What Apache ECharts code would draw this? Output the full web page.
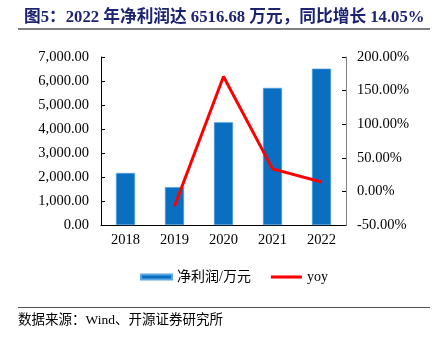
<!DOCTYPE html>
<html><head><meta charset="utf-8">
<script src="https://cdn.jsdelivr.net/npm/echarts@6/dist/echarts.min.js"></script>
<style>html,body{margin:0;padding:0;background:#fff}#c{width:432px;height:338px}</style>
</head><body><div id="c"></div>
<script>
const categories = ['2018','2019','2020','2021','2022'];
const profit = [2170, 1580, 4280, 5714, 6516.68];
const yoy = [null, -22, 171, 33.5, 14.05];
const leftTicks = [0,1000,2000,3000,4000,5000,6000,7000];
const rightTicks = [-50,0,50,100,150,200];
const serif = 'Liberation Serif, "Times New Roman", "Noto Sans CJK SC", serif';
const chart = echarts.init(document.getElementById('c'));
chart.setOption({
  animation:false,
  title:{text:'图5：2022 年净利润达 6516.68 万元，同比增长 14.05%',left:19,top:4,
    textStyle:{fontFamily:serif,fontWeight:'bold',fontSize:16.7,color:'#1c2470'}},
  grid:{left:101,right:86,top:57,bottom:113},
  legend:{top:265,left:135,itemGap:20,itemWidth:31,itemHeight:5,
    textStyle:{fontFamily:serif,fontSize:14,color:'#000'},
    data:[{name:'净利润/万元',icon:'rect'},{name:'yoy',icon:'path://M0,0L10,0L10,1L0,1Z'}]},
  xAxis:{type:'category',data:categories,
    axisLine:{lineStyle:{color:'#000'}},
    axisTick:{inside:true,length:4,lineStyle:{color:'#000'}},
    axisLabel:{fontFamily:serif,fontSize:14.5,color:'#000',margin:8}},
  yAxis:[
    {type:'value',min:leftTicks[0],max:leftTicks[leftTicks.length-1],interval:1000,
     splitLine:{show:false},
     axisLine:{show:true,lineStyle:{color:'#000'}},
     axisTick:{show:true,inside:true,length:4,lineStyle:{color:'#000'}},
     axisLabel:{fontFamily:serif,fontSize:14.5,color:'#000',margin:12,
       formatter:v=>v.toLocaleString('en-US',{minimumFractionDigits:2,maximumFractionDigits:2})}},
    {type:'value',min:rightTicks[0],max:rightTicks[rightTicks.length-1],interval:50,
     splitLine:{show:false},
     axisLine:{show:true,lineStyle:{color:'#808080'}},
     axisTick:{show:true,inside:true,length:4,lineStyle:{color:'#000'}},
     axisLabel:{fontFamily:serif,fontSize:14.5,color:'#000',margin:11,
       formatter:v=>v.toFixed(2)+'%'}}
  ],
  series:[
    {name:'净利润/万元',type:'bar',data:profit,barWidth:'39%',
     itemStyle:{color:'#0a6fc0',borderColor:'#5aa6e2',borderWidth:0.6}},
    {name:'yoy',type:'line',yAxisIndex:1,data:yoy,symbol:'none',
     lineStyle:{color:'#ff0000',width:3},itemStyle:{color:'#ff0000'}}
  ],
  graphic:[
    {type:'line',shape:{x1:18,y1:29,x2:430,y2:29},style:{stroke:'#000',lineWidth:1}},
    {type:'line',shape:{x1:18,y1:307.5,x2:430,y2:307.5},style:{stroke:'#555',lineWidth:1}},
    {type:'text',left:18,top:314,style:{text:'数据来源：Wind、开源证券研究所',
      font:'13.5px '+serif,fill:'#000'}}
  ]
});
</script></body></html>
